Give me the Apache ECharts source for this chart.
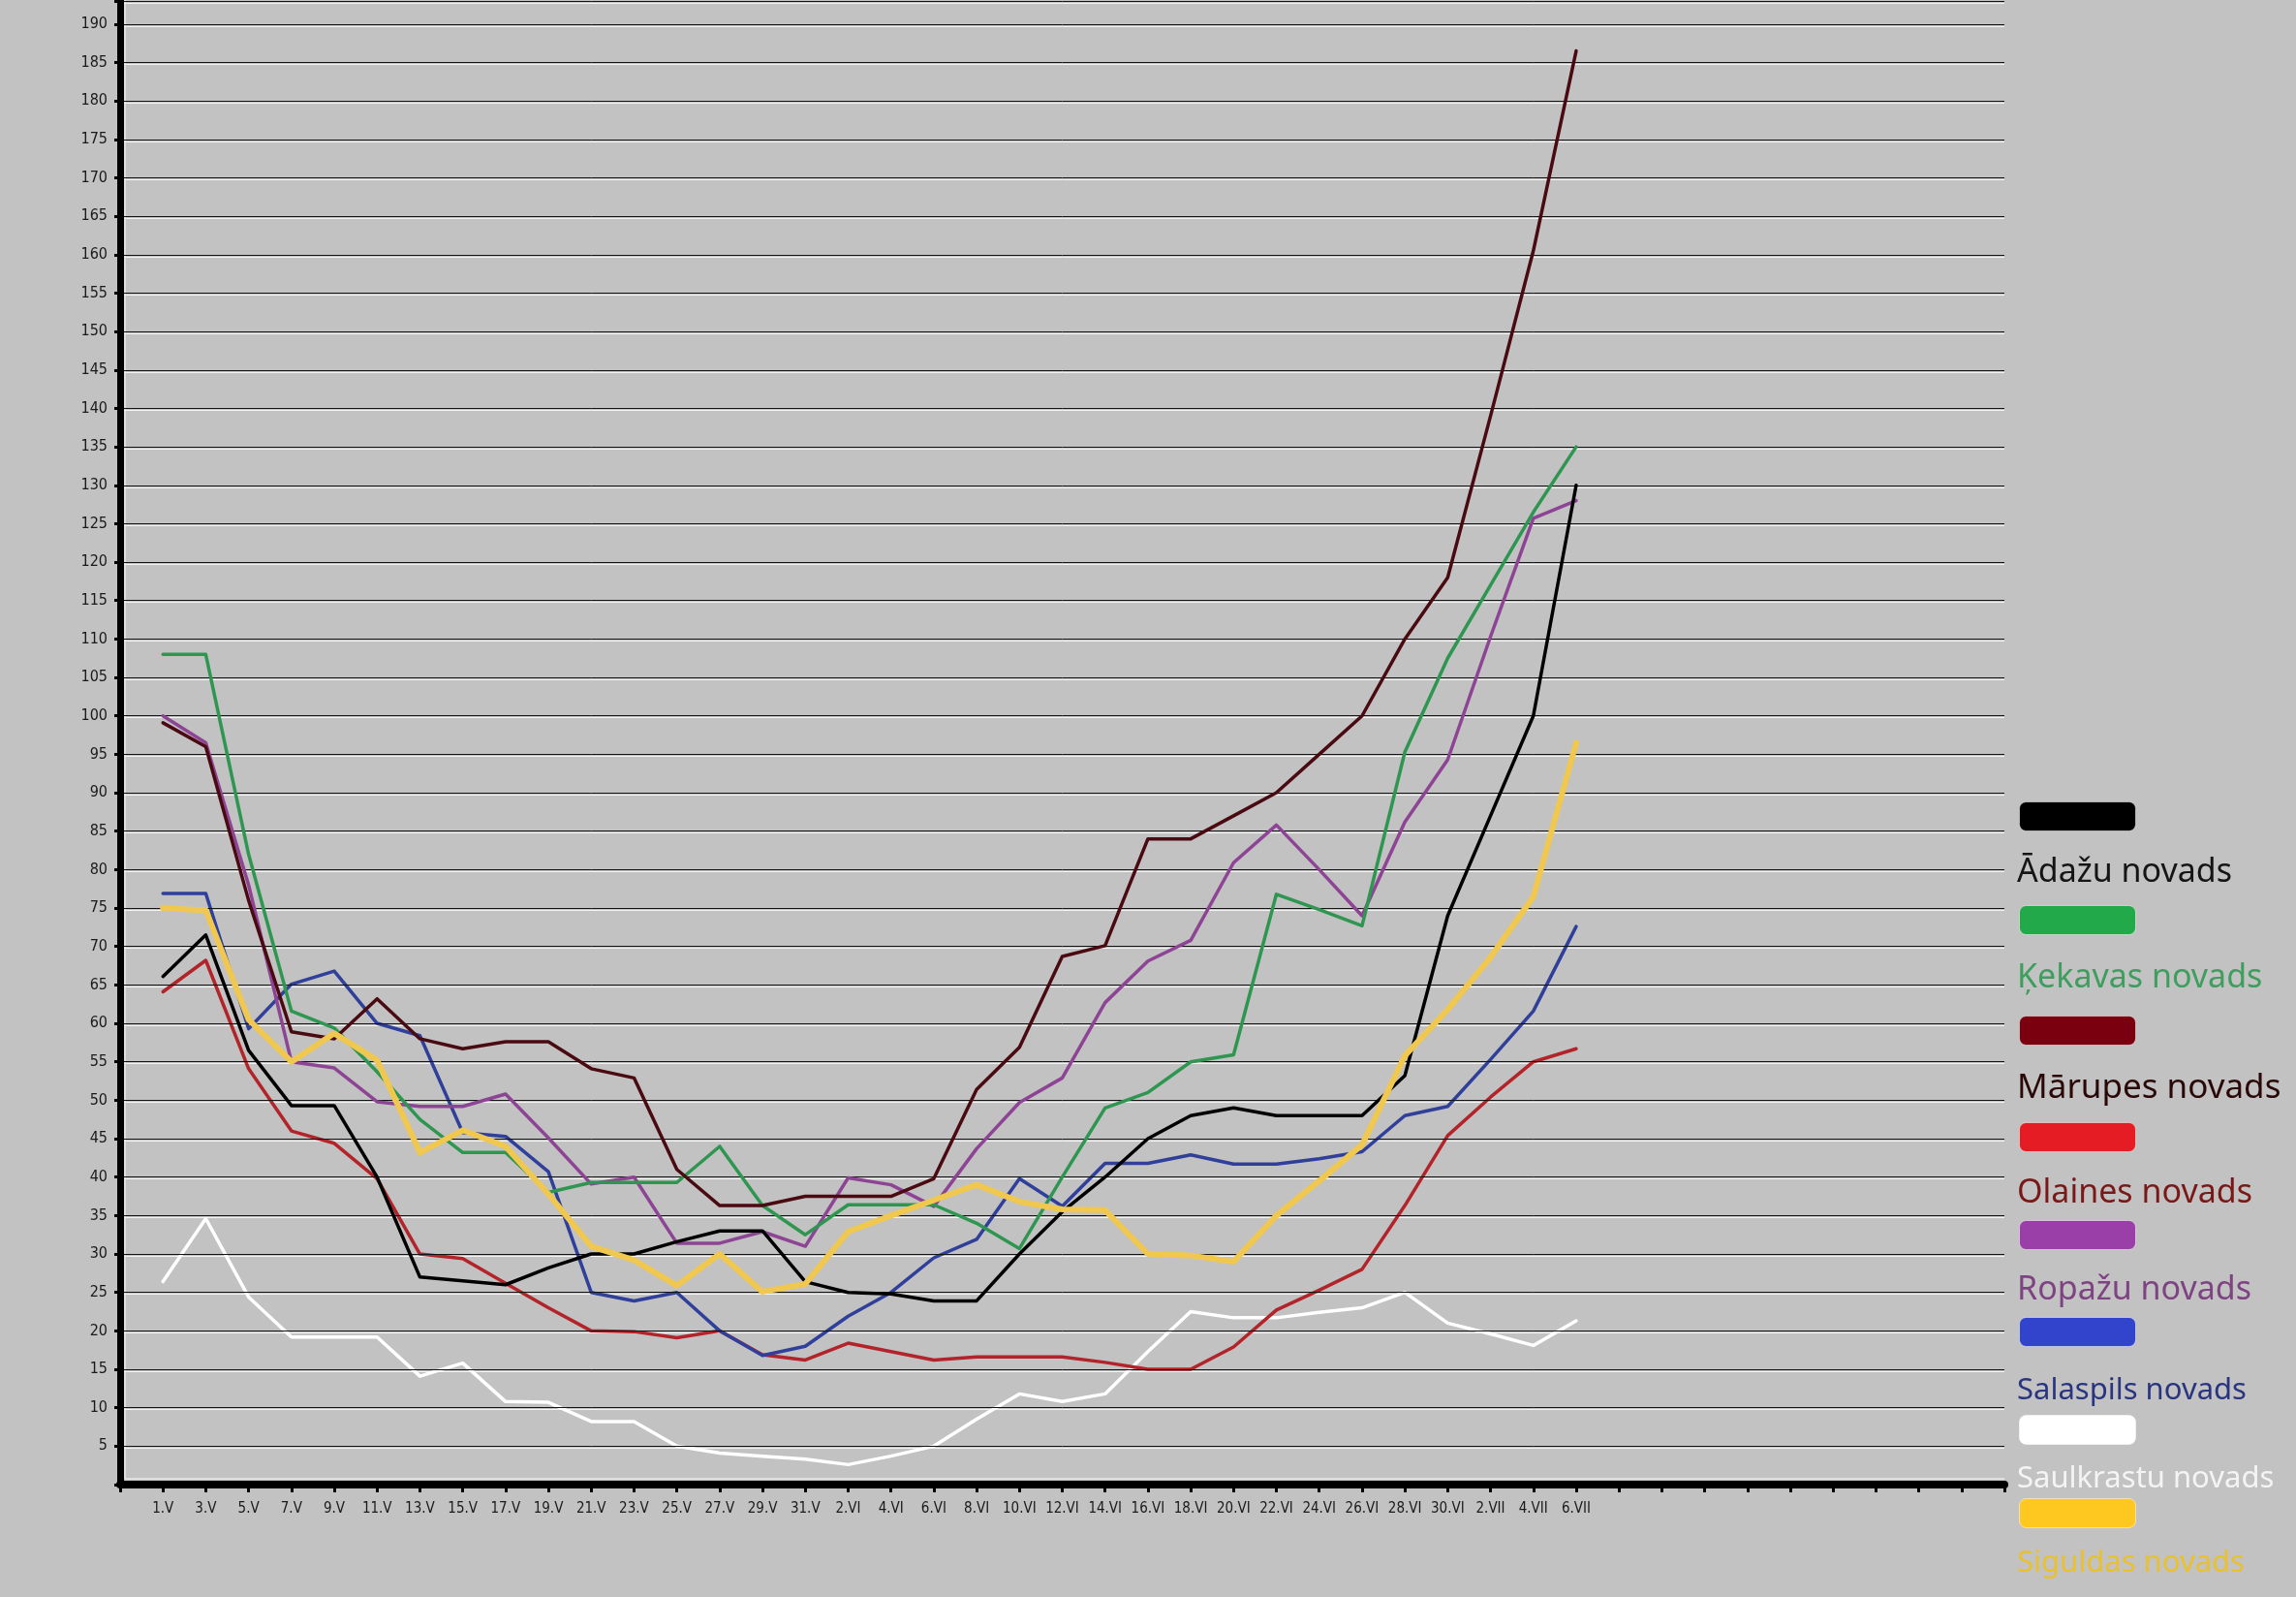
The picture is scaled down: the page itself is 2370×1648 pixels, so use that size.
<!DOCTYPE html>
<html>
<head>
<meta charset="utf-8">
<script src="https://cdn.jsdelivr.net/npm/echarts@6/dist/echarts.min.js"></script>
<style>
html,body{margin:0;padding:0;background:#c2c2c2;}
#chart{width:2370px;height:1648px;}
</style>
</head>
<body>
<div id="chart"></div>
<script>
// ---- data ----
const dates = ['1.V','3.V','5.V','7.V','9.V','11.V','13.V','15.V','17.V','19.V','21.V','23.V','25.V','27.V','29.V','31.V',
  '2.VI','4.VI','6.VI','8.VI','10.VI','12.VI','14.VI','16.VI','18.VI','20.VI','22.VI','24.VI','26.VI','28.VI','30.VI',
  '2.VII','4.VII','6.VII'];
const emptyTrailingTicks = 10;

const seriesNames = ['Ādažu novads','Ķekavas novads','Mārupes novads','Olaines novads','Ropažu novads','Salaspils novads','Saulkrastu novads','Siguldas novads'];

const adazi = [66.1,71.5,56.5,49.3,49.3,40,27,26.5,26,28.2,30,30,31.6,33,33,26.4,25,24.8,23.9,23.9,30,35.5,40,45,48,49,48,48,48,53.2,74,87,100,130];
const kekava = [108,108,82,61.6,59.4,53.7,47.5,43.2,43.2,38,39.3,39.3,39.3,44,36.3,32.5,36.4,36.4,36.4,34,30.7,40,49,51,55,55.9,76.8,74.8,72.7,95.3,107.5,117,126.5,135];
const marupe = [99.1,96,76,58.9,58,63.2,58,56.7,57.6,57.6,54.1,52.9,41,36.3,36.3,37.5,37.5,37.5,39.8,51.4,56.9,68.7,70.1,84,84,87,90,95,100,110,118,139,160.5,186.5];
const olaine = [64.1,68.2,54.1,46,44.4,39.8,30,29.4,26.2,23,20,19.9,19.1,20,16.9,16.2,18.4,17.3,16.2,16.6,16.6,16.6,15.9,15,15,17.9,22.7,25.3,28,36.3,45.4,50.4,55,56.7];
const ropazi = [100,96.5,78,55,54.2,49.8,49.2,49.2,50.8,45.1,39.1,40,31.4,31.4,32.9,31,39.9,39,36.2,43.7,49.7,52.9,62.7,68.1,70.8,80.9,85.8,80,74,86.2,94.3,110.3,125.7,128];
const salaspils = [76.9,76.9,59.3,65.1,66.8,60,58.4,45.8,45.3,40.7,25,23.9,25,20,16.8,18,21.9,25,29.5,31.9,39.8,36.2,41.8,41.8,42.9,41.7,41.7,42.4,43.3,48,49.2,55.3,61.6,72.6];
const saulkrasti = [26.4,34.6,24.4,19.2,19.2,19.2,14.1,15.8,10.8,10.7,8.2,8.2,5,4.1,3.7,3.3,2.6,3.7,5,8.5,11.8,10.8,11.8,17.3,22.5,21.7,21.7,22.4,23,25,21,19.6,18.1,21.3];
const sigulda = [75,74.7,60.5,55,58.7,55.2,43.2,46.1,44,37.8,31,29.2,25.9,30,25.1,26.1,32.9,35,37,39,36.8,35.8,35.7,30,29.8,29,35,39.5,44.2,55.8,61.8,68.6,76.5,96.5];

const yMin = 0, yMax = 193, yStep = 5;

// ---- styles ----
const lineColors  = ['#000000','#2e9650','#4a0a12','#b3232a','#8e4494','#2f3f9a','#ffffff','#f0c850'];
const lineWidths  = [3.5,3.5,3.5,3.5,3.5,3.5,3.5,6];
const swatchColors= ['#000000','#22aa4a','#7a0010','#e51c23','#9a3fa8','#3344cc','#ffffff','#ffc820'];
const textColors  = ['#151515','#3d9e5e','#2a0808','#7a1818','#7e4382','#2a3580','#f4f4f4','#e8c030'];
const legendFont  = [34,34,35,34,34,31,31,31];
const swatchY = [842,949,1063,1173,1274,1374,1475,1561];
const textY   = [904,1013,1127,1235,1335,1439,1530,1617];

const allValues = [adazi,kekava,marupe,olaine,ropazi,salaspils,saulkrasti,sigulda];
const categories = [''].concat(dates, new Array(emptyTrailingTicks).fill(''));
const zOrder = [6,4,5,2,3,2,1,7];

const chart = echarts.init(document.getElementById('chart'), null, {renderer:'canvas'});

const series = allValues.map((vals, i) => ({
  name: seriesNames[i],
  type: 'line',
  xAxisIndex: 0, yAxisIndex: 0,
  data: [null].concat(vals),
  showSymbol: false,
  symbol: 'none',
  smooth: false,
  z: 2 + zOrder[i],
  lineStyle: {color: lineColors[i], width: lineWidths[i], cap:'round', join:'round'},
  itemStyle: {color: lineColors[i]},
  animation: false
}));

const graphics = [];
seriesNames.forEach((name, i) => {
  graphics.push({
    type: 'rect', left: 2084, top: swatchY[i] - 15,
    shape: {width: 120, height: 30, r: 7},
    style: {fill: swatchColors[i], stroke: 'rgba(255,255,255,0.5)', lineWidth: 1},
    z: 10
  });
  graphics.push({
    type: 'text', left: 2082, top: textY[i] - legendFont[i] * 0.62,
    style: {text: name, fill: textColors[i], font: legendFont[i] + 'px "Noto Sans", Roboto, sans-serif'},
    z: 10
  });
});

// thin light edge along the inner side of the axes
graphics.push({type:'line', shape:{x1:129, y1:0, x2:129, y2:1526}, style:{stroke:'#e8e8e8', lineWidth:1.5}, z:1});
graphics.push({type:'line', shape:{x1:129, y1:1526, x2:2069, y2:1526}, style:{stroke:'#e8e8e8', lineWidth:1.5}, z:1});

chart.setOption({
  backgroundColor: '#c2c2c2',
  animation: false,
  grid: [
    {left: 124, right: 301, top: 1, bottom: 116},
    {left: 124, right: 301, top: 3, bottom: 114}
  ],
  xAxis: [
    {
      type: 'category', gridIndex: 0, data: categories, boundaryGap: false,
      axisLine: {show: true, lineStyle: {color: '#000', width: 8}},
      axisTick: {show: true, interval: 0, length: 8, lineStyle: {color: '#000', width: 3}},
      axisLabel: {interval: 0, margin: 18, fontSize: 15, color: '#1a1a1a', fontFamily: '"DejaVu Sans Condensed", "DejaVu Sans", sans-serif'},
      splitLine: {show: false},
      z: 5
    },
    {
      type: 'category', gridIndex: 1, data: categories, boundaryGap: false, show: false
    }
  ],
  yAxis: [
    {
      type: 'value', gridIndex: 0, min: yMin, max: yMax, interval: yStep,
      axisLine: {show: true, lineStyle: {color: '#000', width: 7}},
      axisTick: {show: true, length: 6, lineStyle: {color: '#000', width: 3}},
      axisLabel: {
        margin: 13, fontSize: 16, color: '#1a1a1a',
        fontFamily: '"DejaVu Sans Condensed", "DejaVu Sans", sans-serif',
        formatter: v => (v > 0 && v % 5 === 0 && v <= 190) ? String(v) : ''
      },
      splitLine: {show: true, lineStyle: {color: '#141414', width: 1}},
      z: 5
    },
    {
      type: 'value', gridIndex: 1, min: yMin, max: yMax, interval: yStep,
      axisLine: {show: false}, axisTick: {show: false}, axisLabel: {show: false},
      splitLine: {show: true, lineStyle: {color: '#f4f4f4', width: 1}}
    }
  ],
  series: series,
  graphic: graphics
});
</script>
</body>
</html>
